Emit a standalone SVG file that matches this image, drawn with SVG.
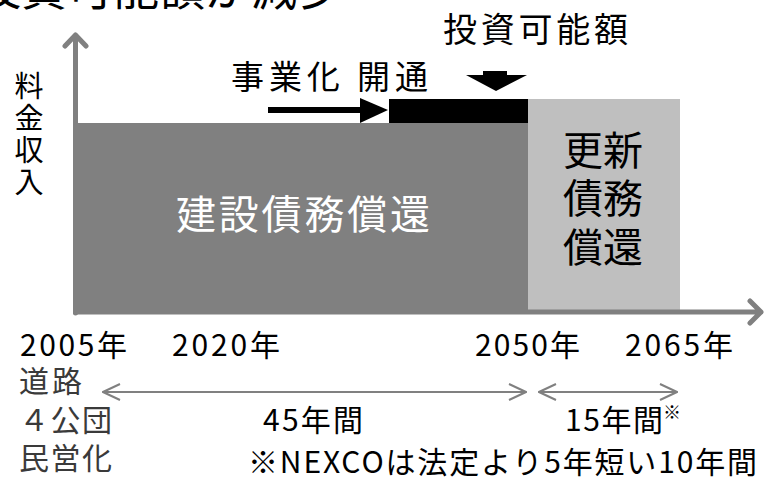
<svg xmlns="http://www.w3.org/2000/svg" width="769" height="487" viewBox="0 0 769 487">
<defs>
<style>
text{font-family:"Noto Sans CJK JP","Noto Sans",sans-serif;fill:#000}
.t30{font-size:30px}
.gray{fill:#3a3a3a}
.axis{stroke:#808080;stroke-width:5;fill:none;stroke-linecap:round;stroke-linejoin:round}
.span{stroke:#808080;stroke-width:2;fill:none}
</style>
<marker id="chev" viewBox="0 0 20 20" refX="19" refY="10" markerWidth="20" markerHeight="20" markerUnits="userSpaceOnUse" orient="auto-start-reverse">
<path d="M2,2 L19,10 L2,18" fill="none" stroke="#808080" stroke-width="2"/>
</marker>
</defs>
<rect width="769" height="487" fill="#fff"/>
<text x="-25" y="5" font-size="46">投資可能額が減少</text>
<g id="areas">
<rect id="construction" x="73" y="123" width="455" height="191" fill="#808080"/>
<rect id="renewal" x="528" y="99" width="152" height="212" fill="#bfbfbf"/>
<rect id="investable" x="389" y="99" width="139" height="24" fill="#000"/>
</g>
<g id="connectors">
<path class="axis" d="M75.5,313 V35 M65,46 L75.5,35 L86,46"/>
<path class="axis" d="M75.5,312 H761 M750,301 L761,312 L750,323"/>
<line x1="268" y1="110" x2="362" y2="110" stroke="#000" stroke-width="6"/>
<polygon points="360,98 388,110 360,123" fill="#000"/>
<polygon points="483,71 507,71 507,75 527,75 496,91 466,75 483,75" fill="#000"/>
<line class="span" x1="103" y1="392" x2="526" y2="392" marker-start="url(#chev)" marker-end="url(#chev)"/>
<line class="span" x1="539" y1="392" x2="677" y2="392" marker-start="url(#chev)" marker-end="url(#chev)"/>
</g>
<g id="labels">
<text x="29" y="97" font-size="29" text-anchor="middle">料</text>
<text x="29" y="129" font-size="29" text-anchor="middle">金</text>
<text x="29" y="161" font-size="29" text-anchor="middle">収</text>
<text x="29" y="193" font-size="29" text-anchor="middle">入</text>
<text x="176" y="229" font-size="40" textLength="254" style="fill:#fff">建設債務償還</text>
<text x="603" y="165" font-size="40" text-anchor="middle">更新</text>
<text x="603" y="213" font-size="40" text-anchor="middle">債務</text>
<text x="603" y="262" font-size="40" text-anchor="middle">償還</text>
<text x="231" y="89" font-size="33" textLength="197">事業化 開通</text>
<text x="443" y="42" font-size="34" textLength="185">投資可能額</text>
<text x="20" y="356" class="t30" textLength="107">2005年</text>
<text x="172" y="356" class="t30" textLength="108">2020年</text>
<text x="475" y="356" class="t30" textLength="105">2050年</text>
<text x="625" y="356" class="t30" textLength="108">2065年</text>
<text x="19" y="392" class="t30 gray" textLength="63">道路</text>
<text x="19" y="431" class="t30 gray" textLength="93">４公団</text>
<text x="19" y="469" class="t30 gray" textLength="93">民営化</text>
<text x="263" y="431" class="t30" textLength="100">45年間</text>
<text x="565" y="431" class="t30" textLength="98">15年間</text>
<text x="663" y="419" font-size="18">※</text>
<text x="248" y="473" class="t30" textLength="509">※NEXCOは法定より5年短い10年間</text>
</g>
</svg>
